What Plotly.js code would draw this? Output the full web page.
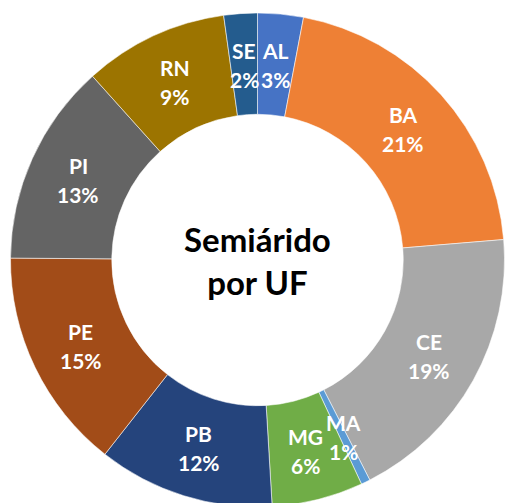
<!DOCTYPE html>
<html>
<head>
<meta charset="utf-8">
<script src="https://cdn.plot.ly/plotly-3.0.1.min.js"></script>
<style>
html,body{margin:0;padding:0;overflow:hidden;background:#fff;}
#chart{width:505px;height:520px;}
</style>
</head>
<body>
<div id="chart"></div>
<script>
// Data (share of semiárido by UF, %)
const ufs = ['AL','BA','CE','MA','MG','PB','PE','PI','RN','SE'];
const shares = [3.0, 20.8, 18.9, 0.6, 6.0, 11.6, 14.6, 13.3, 9.5, 2.2];
const sliceColors = ['#4673C5','#EE8035','#A8A8A8','#5B9BD5','#70AD47','#25447C','#A24C18','#646464','#9C7400','#245C8E'];
const centerTitle = 'Semiárido<br>por UF';

const W = 505, H = 520;
const cx = 257.5, cy = 260, rOut = 247, holeFrac = 0.59;
const domX = [(cx - rOut) / W, (cx + rOut) / W];
const domY = [(H - cy - rOut) / H, (H - cy + rOut) / H];

const total = shares.reduce((a, b) => a + b, 0);
const annotations = [];
const labFont = {family: 'Lato, "Open Sans", sans-serif', size: 21, color: '#ffffff'};
let acc = 0;
const rLab = rOut * (1 + holeFrac) / 2;
shares.forEach((v, i) => {
  const mid = (acc + v / 2) / total * 2 * Math.PI;
  acc += v;
  const px = cx + rLab * Math.sin(mid);
  const py = cy - rLab * Math.cos(mid);
  const pct = Math.round(v / total * 100);
  annotations.push({
    x: px / W, y: (H - (py - 14)) / H, xref: 'paper', yref: 'paper',
    text: '<b>' + ufs[i] + '</b>',
    showarrow: false, xanchor: 'center', yanchor: 'middle', font: labFont
  });
  annotations.push({
    x: px / W, y: (H - (py + 15)) / H, xref: 'paper', yref: 'paper',
    text: '<b>' + pct + '%</b>',
    showarrow: false, xanchor: 'center', yanchor: 'middle', font: labFont
  });
});
annotations.push({
  x: cx / W, y: (H - cy) / H, xref: 'paper', yref: 'paper',
  text: '<b>' + centerTitle + '</b>', showarrow: false,
  xanchor: 'center', yanchor: 'middle',
  font: {family: 'Lato, "Open Sans", sans-serif', size: 33, color: '#000000'}
});

const trace = {
  type: 'pie',
  labels: ufs,
  values: shares,
  sort: false,
  direction: 'clockwise',
  rotation: 0,
  hole: holeFrac,
  textinfo: 'none',
  marker: {colors: sliceColors, line: {color: 'rgba(255,255,255,0.55)', width: 1}},
  domain: {x: domX, y: domY},
  showlegend: false
};

Plotly.newPlot('chart', [trace], {
  width: W, height: H,
  margin: {l: 0, r: 0, t: 0, b: 0},
  paper_bgcolor: '#ffffff',
  annotations: annotations,
  showlegend: false
}, {staticPlot: true});
</script>
</body>
</html>
